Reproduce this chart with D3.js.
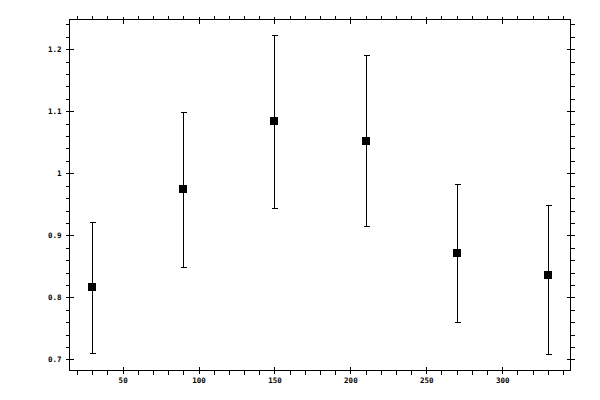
<!DOCTYPE html>
<html>
<head>
<meta charset="utf-8">
<script src="https://cdn.jsdelivr.net/npm/d3@7"></script>
<style>
  body { margin: 0; background: #fff; }
  svg { display: block; }
  .tick text { font-family: "DejaVu Sans Mono", monospace; font-size: 7.5px; font-weight: bold; fill: #000; }
</style>
</head>
<body>
<script>
// data
var xValues = [30, 90, 150, 210, 270, 330];
var yValues = [0.816, 0.974, 1.084, 1.052, 0.871, 0.836];
var yLow = [0.710, 0.848, 0.944, 0.915, 0.760, 0.708];
var yHigh = [0.920, 1.098, 1.222, 1.190, 0.982, 0.948];
var xTicks = [50, 100, 150, 200, 250, 300];
var yTicks = [0.7, 0.8, 0.9, 1, 1.1, 1.2];

var svgWidth = 600;
var svgHeight = 400;
var plot = { left: 69.5, right: 570.5, top: 19.5, bottom: 370.5 };

var svg = d3.select("body")
  .append("svg")
  .attr("width", svgWidth)
  .attr("height", svgHeight)
  .attr("shape-rendering", "crispEdges");

var x = d3.scaleLinear().domain([15, 345]).range([plot.left, plot.right]);
var y = d3.scaleLinear().domain([0.682, 1.248]).range([plot.bottom, plot.top]);

var xMinor = d3.range(20, 345, 10).filter(d => d % 50 !== 0);
var yMinor = d3.range(0.68, 1.25, 0.02).map(d => +d.toFixed(2))
  .filter(d => Math.abs(d * 10 - Math.round(d * 10)) > 1e-6 && d > 0.682);

// frame
svg.append("rect")
  .attr("x", plot.left).attr("y", plot.top)
  .attr("width", plot.right - plot.left).attr("height", plot.bottom - plot.top)
  .attr("fill", "none").attr("stroke", "#000");

// minor ticks (outside only)
function minor(axis, vals) {
  return axis.tickValues(vals).tickSize(4).tickFormat("");
}
svg.append("g").attr("transform", `translate(0,${plot.bottom})`)
  .call(minor(d3.axisBottom(x), xMinor)).call(g => g.select(".domain").remove());
svg.append("g").attr("transform", `translate(0,${plot.top})`)
  .call(minor(d3.axisTop(x), xMinor)).call(g => g.select(".domain").remove());
svg.append("g").attr("transform", `translate(${plot.left},0)`)
  .call(minor(d3.axisLeft(y), yMinor)).call(g => g.select(".domain").remove());
svg.append("g").attr("transform", `translate(${plot.right},0)`)
  .call(minor(d3.axisRight(y), yMinor)).call(g => g.select(".domain").remove());

// major ticks crossing the frame, labels bottom and left
var bottomAxis = svg.append("g")
  .attr("transform", `translate(0,${plot.bottom})`)
  .call(d3.axisBottom(x).tickValues(xTicks).tickSizeInner(3).tickSizeOuter(0).tickPadding(4));
bottomAxis.select(".domain").remove();
bottomAxis.selectAll(".tick line").attr("y1", -4);

var leftAxis = svg.append("g")
  .attr("transform", `translate(${plot.left},0)`)
  .call(d3.axisLeft(y).tickValues(yTicks).tickFormat(d3.format("")).tickSizeInner(4).tickSizeOuter(0).tickPadding(4));
leftAxis.select(".domain").remove();
leftAxis.selectAll(".tick line").attr("x1", 4);

var topAxis = svg.append("g")
  .attr("transform", `translate(0,${plot.top})`)
  .call(d3.axisTop(x).tickValues(xTicks).tickSize(3).tickFormat(""));
topAxis.select(".domain").remove();
topAxis.selectAll(".tick line").attr("y1", 4);

var rightAxis = svg.append("g")
  .attr("transform", `translate(${plot.right},0)`)
  .call(d3.axisRight(y).tickValues(yTicks).tickSize(4).tickFormat(""));
rightAxis.select(".domain").remove();
rightAxis.selectAll(".tick line").attr("x1", -4);

svg.selectAll(".tick line").attr("stroke", "#000");

// error bars
var bars = svg.append("g").attr("stroke", "#000");
xValues.forEach(function(xv, i) {
  var cx = Math.round(x(xv)) + 0.5;
  bars.append("line").attr("x1", cx).attr("x2", cx).attr("y1", y(yLow[i])).attr("y2", y(yHigh[i]));
  bars.append("line").attr("x1", cx - 3).attr("x2", cx + 3).attr("y1", y(yLow[i])).attr("y2", y(yLow[i]));
  bars.append("line").attr("x1", cx - 3).attr("x2", cx + 3).attr("y1", y(yHigh[i])).attr("y2", y(yHigh[i]));
});

// square markers
svg.append("g").selectAll("rect")
  .data(xValues)
  .enter()
  .append("rect")
  .attr("x", d => Math.round(x(d)) - 4)
  .attr("y", (d, i) => Math.round(y(yValues[i])) - 4)
  .attr("width", 8)
  .attr("height", 8)
  .attr("fill", "#000");
</script>
</body>
</html>
